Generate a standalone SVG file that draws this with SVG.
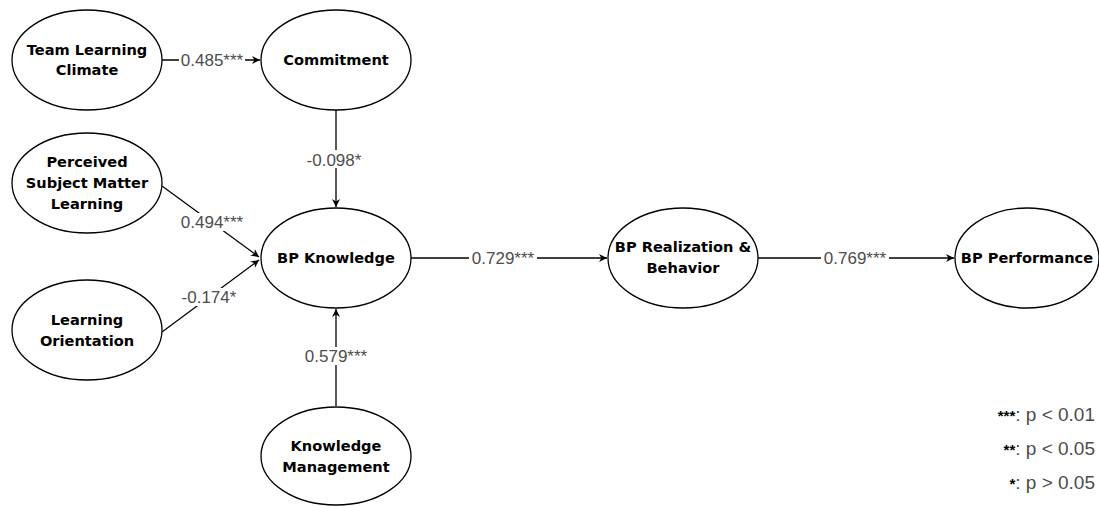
<svg xmlns="http://www.w3.org/2000/svg" width="1099" height="506" viewBox="0 0 1099 506">
<style>
.node ellipse{fill:#fff;stroke:#000;stroke-width:1.3}
.nt{font-family:"DejaVu Sans",sans-serif;font-weight:bold;font-size:14.6px;fill:#000;text-anchor:middle}
.edge{stroke:#000;stroke-width:1.3;fill:none;marker-end:url(#arr)}
.bg{fill:#fff}
.lbl{font-family:"Liberation Sans",Arial,sans-serif;font-size:17px;fill:#4d4d4d;text-anchor:middle}
.leg{font-family:"Liberation Sans",Arial,sans-serif;font-size:19px;fill:#4d4d4d;text-anchor:end}
.st{fill:#000;font-weight:bold;font-size:15px}
</style>
<defs>
<marker id="arr" viewBox="0 0 10 10" refX="10" refY="5" markerWidth="8" markerHeight="8" markerUnits="userSpaceOnUse" orient="auto">
<path d="M0,0 L10,5 L0,10 L3,5 Z" fill="#000"/>
</marker>
</defs>
<rect width="1099" height="506" fill="#fff"/>
<g id="connectors">
<g id="e1"><path class="edge" d="M162,60 L260,60"/><rect class="bg" x="179" y="51" width="66" height="18"/><text class="lbl" x="212" y="66">0.485***</text></g>
<g id="e2"><path class="edge" d="M336,110 L336,207"/><rect class="bg" x="305" y="150" width="60" height="18"/><text class="lbl" x="334" y="166">-0.098*</text></g>
<g id="e3"><path class="edge" d="M162,186 L259,257"/><rect class="bg" x="178" y="213" width="68" height="18"/><text class="lbl" x="212" y="228">0.494***</text></g>
<g id="e4"><path class="edge" d="M162,332 L259,260"/><rect class="bg" x="180" y="288" width="58" height="18"/><text class="lbl" x="209" y="303">-0.174*</text></g>
<g id="e5"><path class="edge" d="M336,406 L336,309"/><rect class="bg" x="302" y="347" width="68" height="18"/><text class="lbl" x="336" y="362">0.579***</text></g>
<g id="e6"><path class="edge" d="M410,258 L607,258"/><rect class="bg" x="469" y="249" width="68" height="18"/><text class="lbl" x="503" y="264">0.729***</text></g>
<g id="e7"><path class="edge" d="M758,258 L954,258"/><rect class="bg" x="821" y="249" width="68" height="18"/><text class="lbl" x="855" y="264">0.769***</text></g>
</g>
<g id="n-tlc" class="node"><ellipse cx="87" cy="60" rx="75" ry="50"/><text class="nt" x="87" y="55">Team Learning</text><text class="nt" x="87" y="75">Climate</text></g>
<g id="n-com" class="node"><ellipse cx="336" cy="60" rx="75" ry="50"/><text class="nt" x="336" y="65">Commitment</text></g>
<g id="n-psml" class="node"><ellipse cx="87" cy="183" rx="75" ry="50"/><text class="nt" x="87" y="167">Perceived</text><text class="nt" x="87" y="188">Subject Matter</text><text class="nt" x="87" y="209">Learning</text></g>
<g id="n-bpk" class="node"><ellipse cx="336" cy="258" rx="75" ry="50"/><text class="nt" x="336" y="263">BP Knowledge</text></g>
<g id="n-lo" class="node"><ellipse cx="87" cy="330" rx="75" ry="50"/><text class="nt" x="87" y="325">Learning</text><text class="nt" x="87" y="346">Orientation</text></g>
<g id="n-km" class="node"><ellipse cx="336" cy="456" rx="75" ry="49"/><text class="nt" x="336" y="451">Knowledge</text><text class="nt" x="336" y="472">Management</text></g>
<g id="n-bpr" class="node"><ellipse cx="683" cy="258" rx="75" ry="50"/><text class="nt" x="683" y="252">BP Realization &amp;</text><text class="nt" x="683" y="273">Behavior</text></g>
<g id="n-bpp" class="node"><ellipse cx="1027" cy="258" rx="72" ry="50"/><text class="nt" x="1027" y="263">BP Performance</text></g>
<g id="legend">
<text class="leg" x="1095" y="421"><tspan class="st">***</tspan>: p &lt; 0.01</text>
<text class="leg" x="1095" y="455"><tspan class="st">**</tspan>: p &lt; 0.05</text>
<text class="leg" x="1095" y="489"><tspan class="st">*</tspan>: p &gt; 0.05</text>
</g>
</svg>
